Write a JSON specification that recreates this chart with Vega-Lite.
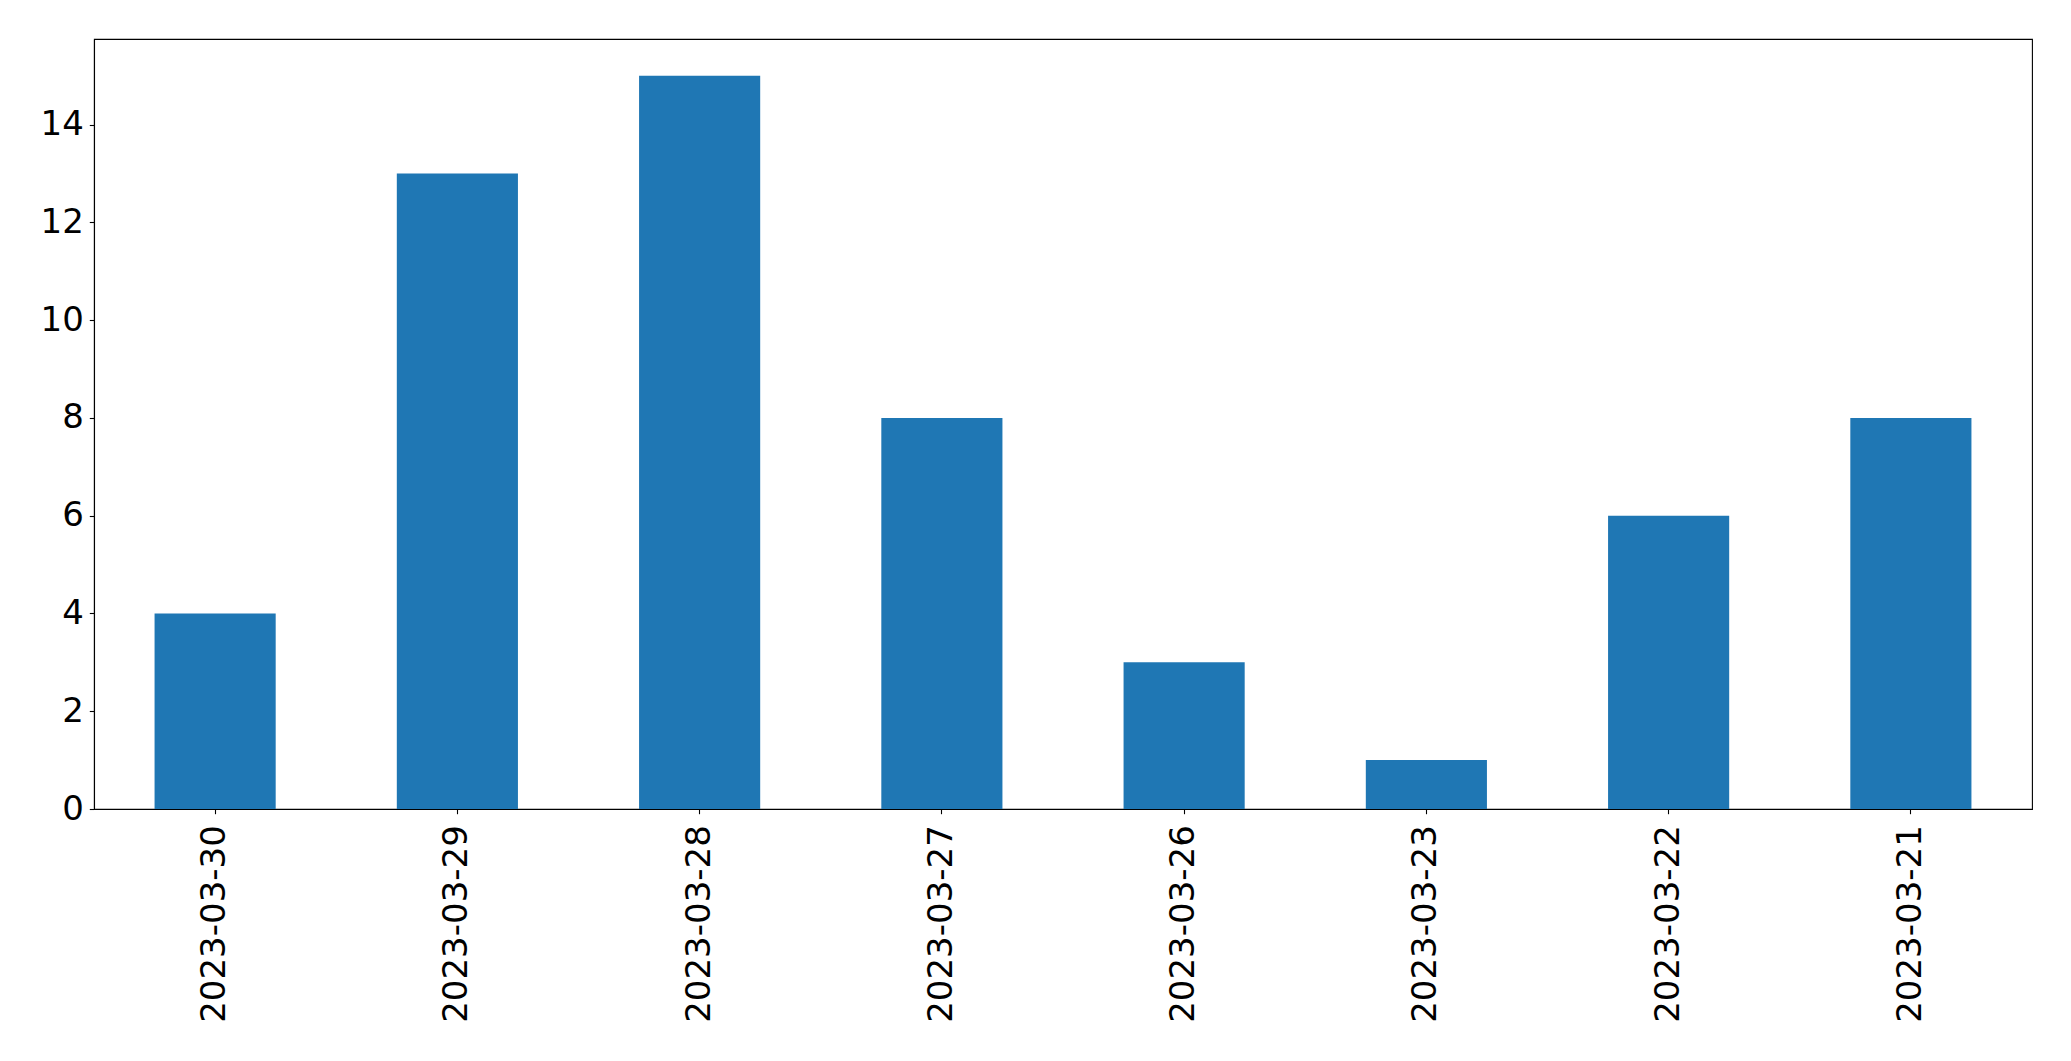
{
  "$schema": "https://vega.github.io/schema/vega-lite/v6.json",
  "width": 1938,
  "height": 770,
  "autosize": "none",
  "padding": {"left": 94, "top": 39, "right": 39, "bottom": 252},
  "background": "white",
  "config": {
    "view": {"stroke": "black", "strokeWidth": 1.1},
    "axis": {
      "labelFont": "DejaVu Sans",
      "labelFontSize": 34,
      "labelColor": "black",
      "labelLimit": 0,
      "tickColor": "black",
      "tickSize": 4.7,
      "tickWidth": 1.1,
      "domainColor": "black",
      "domainWidth": 1.1,
      "grid": false,
      "title": null
    }
  },
  "data": {
    "values": [
      {"date": "2023-03-30", "count": 4},
      {"date": "2023-03-29", "count": 13},
      {"date": "2023-03-28", "count": 15},
      {"date": "2023-03-27", "count": 8},
      {"date": "2023-03-26", "count": 3},
      {"date": "2023-03-23", "count": 1},
      {"date": "2023-03-22", "count": 6},
      {"date": "2023-03-21", "count": 8}
    ]
  },
  "mark": {"type": "bar", "color": "#1f77b4"},
  "encoding": {
    "x": {
      "field": "date",
      "type": "nominal",
      "sort": null,
      "scale": {"paddingInner": 0.5, "paddingOuter": 0.25},
      "axis": {"labelAngle": -90, "labelPadding": 11, "labelBaseline": "middle", "labelAlign": "right", "labelLimit": 0}
    },
    "y": {
      "field": "count",
      "type": "quantitative",
      "scale": {"domain": [0, 15.75], "nice": false, "zero": true},
      "axis": {"values": [0, 2, 4, 6, 8, 10, 12, 14], "labelPadding": 6}
    }
  }
}
